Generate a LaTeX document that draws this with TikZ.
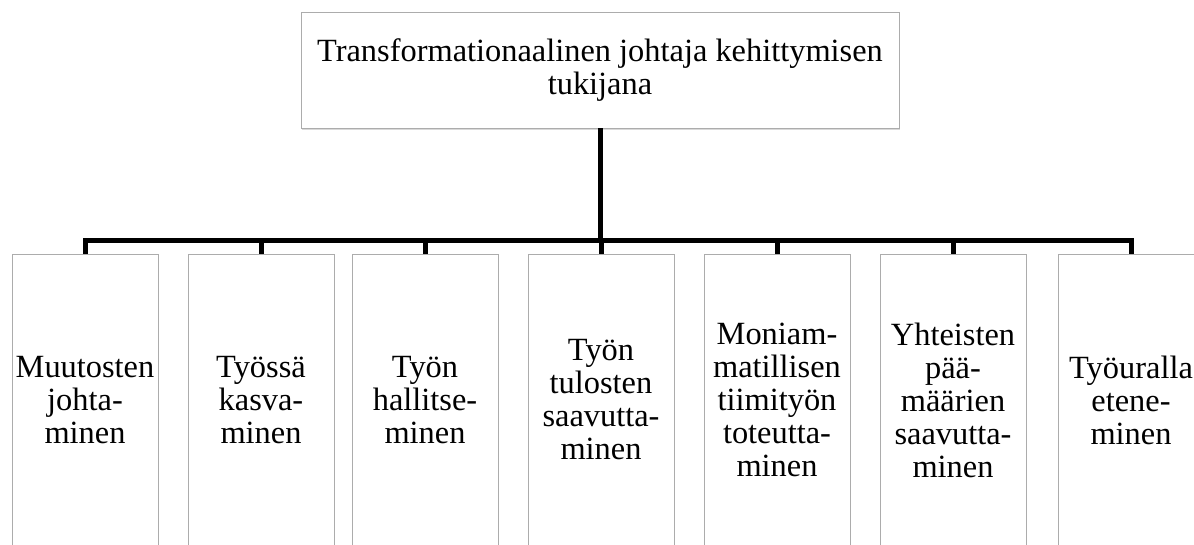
\documentclass[tikz,border=0pt]{standalone}
\usepackage{fontspec}
\setmainfont{Liberation Serif}
\usetikzlibrary{shadows}
\tikzset{
  box/.style={draw=gray!65, line width=0.8pt, fill=white, align=center, inner sep=0pt,
    font=\fontsize{32.4}{33}\selectfont,
    drop shadow={shadow xshift=1pt, shadow yshift=-1.5pt, opacity=0.3}},
  task/.style={box, minimum width=146pt, minimum height=292pt},
  link/.style={line width=5pt, line join=miter}
}
\begin{document}
\begin{tikzpicture}[x=1pt, y=-1pt]
    \clip (0,0) rectangle (1194,544);
    \node[box, minimum width=598pt, minimum height=116pt] (goal) at (600,70) {Transformationaalinen johtaja kehittymisen\\tukijana};
    \coordinate (bus) at (600,240);
    \node[task] (muutos) at (85,400) {Muutosten\\johta-\\minen};
    \node[task] (kasvu) at (261,400) {Työssä\\kasva-\\minen};
    \node[task] (hallinta) at (425,400) {Työn\\hallitse-\\minen};
    \node[task] (tulos) at (601,400) {Työn\\tulosten\\saavutta-\\minen};
    \node[task] (tiimi) at (777,400) {Moniam-\\matillisen\\tiimityön\\toteutta-\\minen};
    \node[task] (paamaara) at (953,400) {Yhteisten\\pää-\\määrien\\saavutta-\\minen};
    \node[task] (ura) at (1131,400) {Työuralla\\etene-\\minen};
    % bus lines
    \draw[link] (goal.south) -- (bus);
    \draw[link] (muutos.north) |- (bus);
    \draw[link] (kasvu.north) |- (bus);
    \draw[link] (hallinta.north) |- (bus);
    \draw[link] (tulos.north) |- (bus);
    \draw[link] (tiimi.north) |- (bus);
    \draw[link] (paamaara.north) |- (bus);
    \draw[link] (ura.north) |- (bus);
\end{tikzpicture}
\end{document}
